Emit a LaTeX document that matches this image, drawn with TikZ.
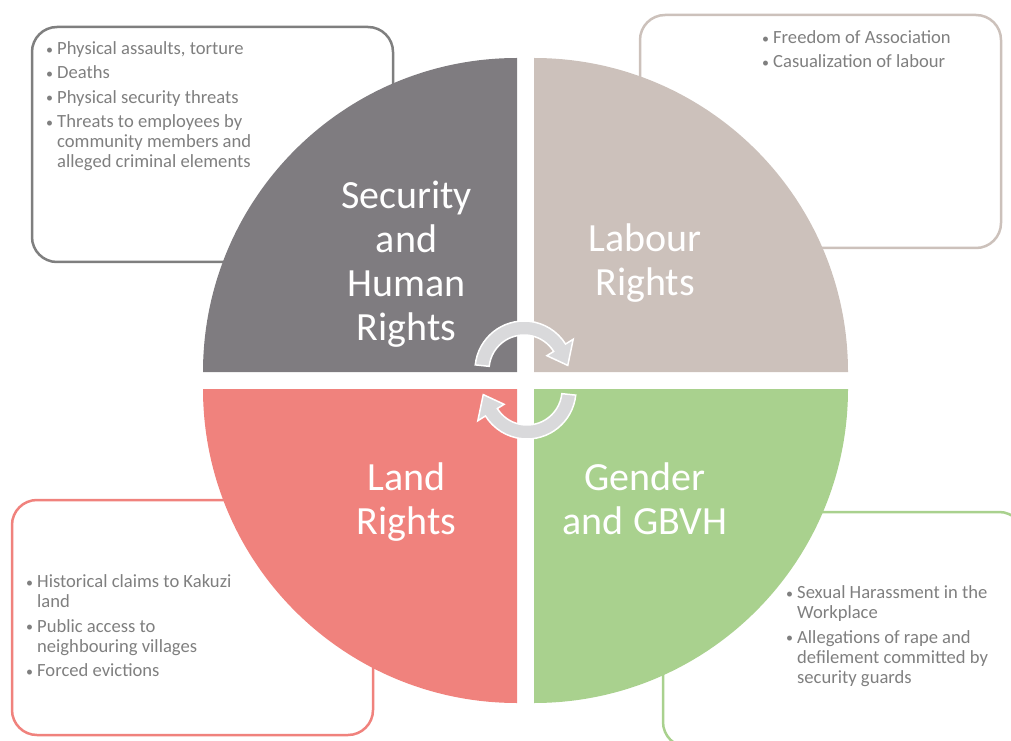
\documentclass[tikz,border=0pt]{standalone}
\usepackage{fontspec}
\setmainfont{Carlito}
\usetikzlibrary{calc}

\definecolor{secgray}{HTML}{7F7C80}
\definecolor{labbeige}{HTML}{CCC1BB}
\definecolor{landred}{HTML}{F0827D}
\definecolor{gengreen}{HTML}{A9D18E}
\definecolor{listgray}{HTML}{7F7F7F}
\definecolor{cyclefill}{HTML}{D9D9DB}

% bullet and hanging indent for the issue lists
\newcommand{\itm}{\makebox[11pt][l]{\raisebox{0.5pt}{\fontsize{14}{14}\selectfont\textbullet}}}
\newcommand{\hang}{\hspace*{11pt}}

\tikzset{
  issuebox/.style={draw, line width=2.5pt, rounded corners=25pt,
    inner sep=0pt, outer sep=0pt, minimum width=361pt},
  issuelist/.style={anchor=north west, inner sep=0pt, align=left,
    font=\fontsize{18.6}{20}\selectfont, text=listgray},
  quadlabel/.style={text=white, align=center, inner sep=0pt,
    font=\fontsize{40}{44}\selectfont},
  cyclearrow/.style={fill=cyclefill, draw=white, line width=1.5pt, line join=miter}
}

\begin{document}
\begin{tikzpicture}[x=1pt, y=1pt]
  \clip (0,0) rectangle (1011,740);

  % outlined issue boxes (behind the circle)
  \node[issuebox, draw=listgray, minimum height=235pt] (secbox) at (212.5,595.5) {};
  \node[issuebox, draw=labbeige, minimum height=233pt] (labbox) at (820.5,608.5) {};
  \node[issuebox, draw=landred, minimum height=235pt] (landbox) at (192.5,122.5) {};
  \node[issuebox, draw=gengreen, minimum height=235pt] (genbox) at (843.5,110.5) {};

  % the four quadrants
  \fill[secgray] (517,368) -- ++(-314,0) arc[start angle=180, end angle=90, radius=314pt] -- cycle;
  \fill[labbeige] (534,368) -- ++(0,314) arc[start angle=90, end angle=0, radius=314pt] -- cycle;
  \fill[landred] (517,351) -- ++(-314,0) arc[start angle=180, end angle=270, radius=314pt] -- cycle;
  \fill[gengreen] (534,351) -- ++(314,0) arc[start angle=0, end angle=-90, radius=314pt] -- cycle;

  % quadrant titles
  \node[quadlabel] (sectitle) at (406.5,476) {Security\\and\\Human\\Rights};
  \node[quadlabel] (labtitle) at (645,477) {Labour\\Rights};
  \node[quadlabel] (landtitle) at (406.5,238) {Land\\Rights};
  \node[quadlabel] (gentitle) at (645,241) {Gender\\and GBVH};

  % circular arrows in the middle
  \begin{scope}[shift={(524,370)}]
    \path[cyclearrow] (174:49pt) arc[start angle=174, end angle=32, radius=49pt]
      -- (32:58pt) -- (6:44pt) -- (32:27pt) -- (32:35pt)
      arc[start angle=32, end angle=174, radius=35pt] -- cycle;
  \end{scope}
  \begin{scope}[shift={(527,350)}]
    \path[cyclearrow] (-6:49pt) arc[start angle=-6, end angle=-148, radius=49pt]
      -- (-148:58pt) -- (-174:44pt) -- (-148:27pt) -- (-148:35pt)
      arc[start angle=-148, end angle=-6, radius=35pt] -- cycle;
  \end{scope}

  % issue lists
  \node[issuelist] (seclist) at (46,698.5) {%
    \itm Physical assaults, torture\\[4.3pt]
    \itm Deaths\\[4.3pt]
    \itm Physical security threats\\[4.3pt]
    \itm Threats to employees by\\
    \hang community members and\\
    \hang alleged criminal elements};
  \node[issuelist] (lablist) at (762,709.5) {%
    \itm Freedom of Association\\[4pt]
    \itm Casualization of labour};
  \node[issuelist] (landlist) at (26,165.5) {%
    \itm Historical claims to Kakuzi\\
    \hang land\\[4.5pt]
    \itm Public access to\\
    \hang neighbouring villages\\[4.5pt]
    \itm Forced evictions};
  \node[issuelist] (genlist) at (786,154.5) {%
    \itm Sexual Harassment in the\\
    \hang Workplace\\[4.5pt]
    \itm Allegations of rape and\\
    \hang defilement committed by\\
    \hang security guards};
\end{tikzpicture}
\end{document}
